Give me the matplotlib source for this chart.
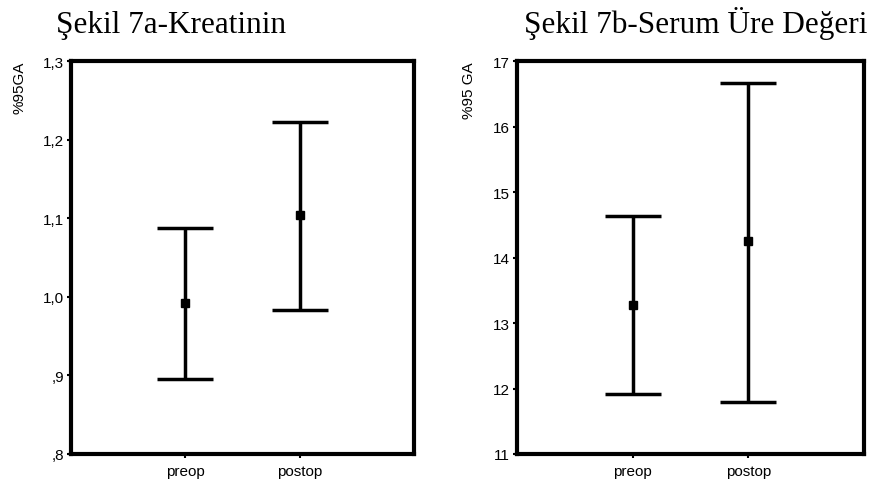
import matplotlib
matplotlib.use("Agg")
import matplotlib.pyplot as plt
from matplotlib.ticker import FixedLocator, FixedFormatter

# Veriler
groups = ["preop", "postop"]

kreatinin_mean = [0.992, 1.104]
kreatinin_low = [0.896, 0.983]
kreatinin_high = [1.088, 1.222]
kreatinin_ticks = [0.8, 0.9, 1.0, 1.1, 1.2, 1.3]
kreatinin_labels = [",8", ",9", "1,0", "1,1", "1,2", "1,3"]

ure_mean = [13.27, 14.25]
ure_low = [11.92, 11.80]
ure_high = [14.64, 16.67]
ure_ticks = [11, 12, 13, 14, 15, 16, 17]
ure_labels = ["11", "12", "13", "14", "15", "16", "17"]

plt.rcParams["font.family"] = ["Liberation Sans", "DejaVu Sans"]

fig = plt.figure(figsize=(8.74, 4.81), dpi=100)
ax1 = fig.add_axes([71 / 874, 26 / 481, 343 / 874, 393 / 481])
ax2 = fig.add_axes([517 / 874, 26 / 481, 347 / 874, 393 / 481])


def draw_panel(ax, mean, low, high, ticks, labels, ylabel, title, title_x):
    x = [1, 2]
    yerr = [[m - l for m, l in zip(mean, low)], [h - m for m, h in zip(mean, high)]]
    ax.errorbar(x, mean, yerr=yerr, fmt="s", color="black", ms=6,
                elinewidth=2.5, capsize=20, capthick=2.5)
    ax.set_xlim(0, 3)
    ax.set_ylim(ticks[0], ticks[-1])
    ax.set_xticks(x)
    ax.set_xticklabels(groups)
    ax.yaxis.set_major_locator(FixedLocator(ticks))
    ax.yaxis.set_major_formatter(FixedFormatter(labels))
    ax.tick_params(axis="both", length=3, width=1.5, labelsize=11, pad=2)
    ax.tick_params(axis="x", pad=4)
    for s in ax.spines.values():
        s.set_linewidth(3)
    ax.set_ylabel(ylabel, fontsize=11, loc="top", labelpad=12)
    fig.text(title_x, 448 / 481, title, fontsize=22.5, family="Liberation Serif",
             ha="center", va="baseline")


draw_panel(ax1, kreatinin_mean, kreatinin_low, kreatinin_high,
           kreatinin_ticks, kreatinin_labels, "%95GA", "Şekil 7a-Kreatinin", 171 / 874)
draw_panel(ax2, ure_mean, ure_low, ure_high,
           ure_ticks, ure_labels, "%95 GA", "Şekil 7b-Serum Üre Değeri", 696 / 874)

fig.savefig("out.png", dpi=100)
